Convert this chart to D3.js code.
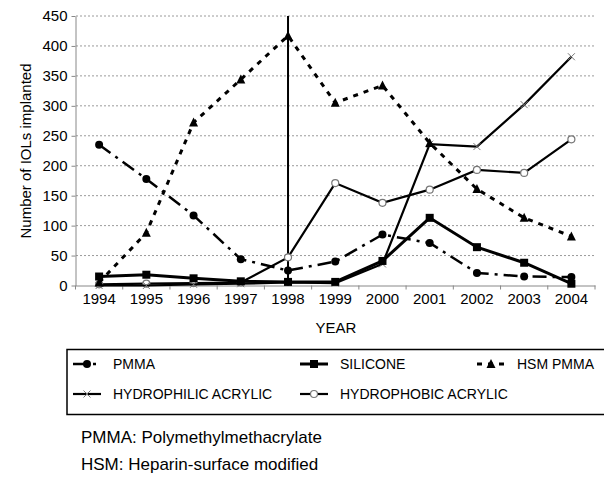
<!DOCTYPE html>
<html>
<head>
<meta charset="utf-8">
<title>IOLs implanted by year</title>
<script src="https://d3js.org/d3.v7.min.js"></script>
<style>
  body { margin: 0; background: #fff; }
  svg { font-family: "Liberation Sans", Arial, Helvetica, sans-serif; }
</style>
</head>
<body>
<svg id="chart"></svg>
<script>
// data
var years = [1994, 1995, 1996, 1997, 1998, 1999, 2000, 2001, 2002, 2003, 2004];
var pmma        = [235, 178, 117, 44, 25, 40, 85, 71, 21, 15, 14];
var silicone    = [15, 18, 12, 7, 6, 6, 41, 113, 64, 38, 3];
var hsmPmma     = [5, 88, 272, 344, 417, 305, 334, 238, 161, 113, 82];
var hydrophilic = [0, 0, 2, 3, 5, 4, 36, 236, 232, 302, 382];
var hydrophobic = [2, 3, 4, 5, 47, 171, 138, 160, 193, 188, 244];
var yTicks = [0, 50, 100, 150, 200, 250, 300, 350, 400, 450];
var markYear = 1998;   // vertical line in the original

var width = 604, height = 477;
var svg = d3.select("#chart").attr("width", width).attr("height", height);

var x = d3.scaleBand().domain(years).range([75.5, 595]);
var y = d3.scaleLinear().domain([0, 450]).range([285.5, 16]);
function cx(d) { return x(d) + x.bandwidth() / 2; }

// grid
svg.append("g").selectAll("line")
    .data(yTicks.filter(function (d) { return d > 0; }))
    .enter().append("line")
    .attr("x1", 76).attr("x2", 594)
    .attr("y1", function (d) { return y(d); })
    .attr("y2", function (d) { return y(d); })
    .style("stroke", "#9a9a9a").style("stroke-dasharray", "2,2");

// y axis
var yAxis = svg.append("g")
    .attr("transform", "translate(75.5,0)")
    .call(d3.axisLeft(y).tickValues(yTicks).tickSize(4).tickSizeOuter(0).tickPadding(4));
yAxis.select(".domain").style("stroke", "#888");
yAxis.selectAll(".tick line").style("stroke", "#888");
yAxis.selectAll("text").style("font-size", "15px").style("fill", "#000")
    .style("font-family", "Liberation Sans, Arial, sans-serif");

// x axis
var xAxis = svg.append("g")
    .attr("transform", "translate(0,285.5)")
    .call(d3.axisBottom(x).tickSize(0).tickPadding(8).tickSizeOuter(0));
xAxis.select(".domain").style("stroke", "#888");
xAxis.selectAll("text").style("font-size", "15px").style("fill", "#000")
    .style("font-family", "Liberation Sans, Arial, sans-serif");
xAxis.selectAll(".bound")
    .data(years.map(function (d) { return x(d); }).concat([x.range()[1]]))
    .enter().append("line")
    .attr("x1", function (d) { return d; }).attr("x2", function (d) { return d; })
    .attr("y1", 0).attr("y2", 4)
    .style("stroke", "#888");

svg.append("text")
    .attr("x", 336).attr("y", 333)
    .attr("text-anchor", "middle")
    .style("font-size", "15px")
    .text("YEAR");

svg.append("text")
    .attr("transform", "translate(31,151) rotate(-90)")
    .attr("text-anchor", "middle")
    .style("font-size", "15px")
    .text("Number of IOLs implanted");

// series styling
var series = [
  { name: "PMMA", values: pmma, width: 2.5, dash: "14,6,3,6", marker: "circle" },
  { name: "SILICONE", values: silicone, width: 3, dash: null, marker: "square" },
  { name: "HSM PMMA", values: hsmPmma, width: 3, dash: "5,6", marker: "triangle" },
  { name: "HYDROPHILIC ACRYLIC", values: hydrophilic, width: 2.2, dash: null, marker: "cross" },
  { name: "HYDROPHOBIC ACRYLIC", values: hydrophobic, width: 2.2, dash: null, marker: "open" }
];

var line = d3.line()
    .x(function (d, i) { return cx(years[i]); })
    .y(function (d) { return y(d); });

function drawMarker(g, m, px, py) {
  if (m === "circle") {
    g.append("circle").attr("cx", px).attr("cy", py).attr("r", 4).style("fill", "#000");
  } else if (m === "square") {
    g.append("rect").attr("x", px - 4).attr("y", py - 4).attr("width", 8).attr("height", 8).style("fill", "#000");
  } else if (m === "triangle") {
    g.append("path").attr("d", "M" + px + "," + (py - 5) + "L" + (px + 4.5) + "," + (py + 4) + "L" + (px - 4.5) + "," + (py + 4) + "Z")
        .style("fill", "#000");
  } else if (m === "cross") {
    g.append("path").attr("d", "M" + (px - 3.5) + "," + (py - 3.5) + "L" + (px + 3.5) + "," + (py + 3.5) +
        "M" + (px + 3.5) + "," + (py - 3.5) + "L" + (px - 3.5) + "," + (py + 3.5))
        .style("stroke", "#777").style("stroke-width", 1);
  } else {
    g.append("circle").attr("cx", px).attr("cy", py).attr("r", 3.5)
        .style("fill", "#fff").style("stroke", "#777").style("stroke-width", 1.2);
  }
}

// vertical line at 1998
svg.append("line")
    .attr("x1", cx(markYear)).attr("x2", cx(markYear))
    .attr("y1", y(450)).attr("y2", y(0))
    .style("stroke", "#000").style("stroke-width", 2);

series.slice().reverse().forEach(function (s) {
  var g = svg.append("g");
  g.append("path").datum(s.values)
      .attr("d", line)
      .style("fill", "none").style("stroke", "#000")
      .style("stroke-width", s.width)
      .style("stroke-dasharray", s.dash);
  s.values.forEach(function (v, i) { drawMarker(g, s.marker, cx(years[i]), y(v)); });
});

// legend
svg.append("rect")
    .attr("x", 67).attr("y", 349.5).attr("width", 560).attr("height", 65)
    .style("fill", "none").style("stroke", "#000").style("stroke-width", 1.5);

var legendPos = [[73, 364], [300, 364], [477, 364], [73, 394], [300, 394]];
series.forEach(function (s, i) {
  var lx = legendPos[i][0], ly = legendPos[i][1];
  var g = svg.append("g");
  g.append("line").attr("x1", lx).attr("x2", lx + 28).attr("y1", ly).attr("y2", ly)
      .style("stroke", "#000").style("stroke-width", s.width).style("stroke-dasharray", s.dash);
  drawMarker(g, s.marker, lx + 14, ly);
  g.append("text").attr("x", lx + 40).attr("y", ly + 5)
      .style("font-size", "14px").text(s.name);
});

// footnotes
svg.append("text").attr("x", 81).attr("y", 443).style("font-size", "17px")
    .text("PMMA: Polymethylmethacrylate");
svg.append("text").attr("x", 81).attr("y", 470).style("font-size", "17px")
    .text("HSM: Heparin-surface modified");
</script>
</body>
</html>
